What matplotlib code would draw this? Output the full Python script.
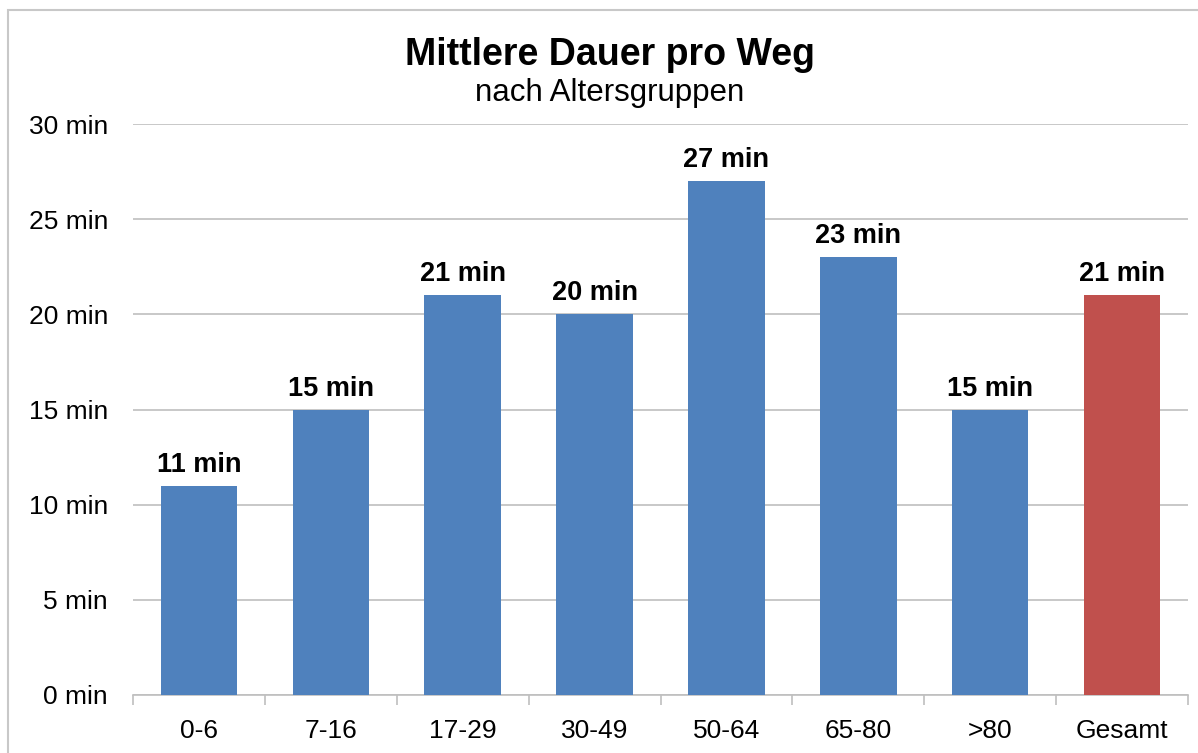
import matplotlib
matplotlib.use("Agg")
import matplotlib.pyplot as plt
from matplotlib.patches import Rectangle
import numpy as np

categories = ["0-6", "7-16", "17-29", "30-49", "50-64", "65-80", ">80", "Gesamt"]
values = [11, 15, 21, 20, 27, 23, 15, 21]
colors = ["#4F81BD"] * 7 + ["#C0504D"]
yticks = [0, 5, 10, 15, 20, 25, 30]

plt.rcParams['font.family'] = ['Liberation Sans', 'DejaVu Sans']

fig = plt.figure(figsize=(11.98, 7.53), dpi=100)
ax = fig.add_axes([133/1198, 1-695/753, (1188-133)/1198, (695-124)/753])

x = np.arange(len(categories))
ax.bar(x, values, width=0.58, color=colors, zorder=3)
for xi, v in zip(x, values):
    ax.annotate(f"{v} min", (xi, v), xytext=(0, 10), textcoords='offset points',
                ha='center', va='baseline', fontsize=19.5, fontweight='bold', color='black')

ax.set_xlim(-0.5, len(categories) - 0.5)
ax.set_ylim(0, 30)
ax.set_yticks(yticks)
ax.set_yticklabels([f"{t} min" for t in yticks], fontsize=19)
ax.yaxis.grid(True, color='#BFBFBF', linewidth=1.2, zorder=0)
ax.tick_params(axis='y', length=0, pad=18)

ax.set_xticks(x)
ax.set_xticklabels(categories, fontsize=19)
ax.tick_params(axis='x', length=0, pad=17)
# category boundary ticks
ax.set_xticks(np.arange(-0.5, len(categories)), minor=True)
ax.tick_params(axis='x', which='minor', length=7, color='#BFBFBF', width=1.2)

for s in ['top', 'right', 'left']:
    ax.spines[s].set_visible(False)
ax.spines['bottom'].set_color('#BFBFBF')
ax.spines['bottom'].set_linewidth(1.2)

fig.text(610/1198, 1-65/753, "Mittlere Dauer pro Weg", ha='center', va='baseline', fontsize=27, fontweight='bold')
fig.text(610/1198, 1-101/753, "nach Altersgruppen", ha='center', va='baseline', fontsize=22.5)

fig.patches.append(Rectangle((8/1198, -0.1), 2, 1.1 - 10/753, transform=fig.transFigure,
                             fill=False, edgecolor='#C8C8C8', linewidth=1.5))

fig.savefig("out.png", dpi=100)
